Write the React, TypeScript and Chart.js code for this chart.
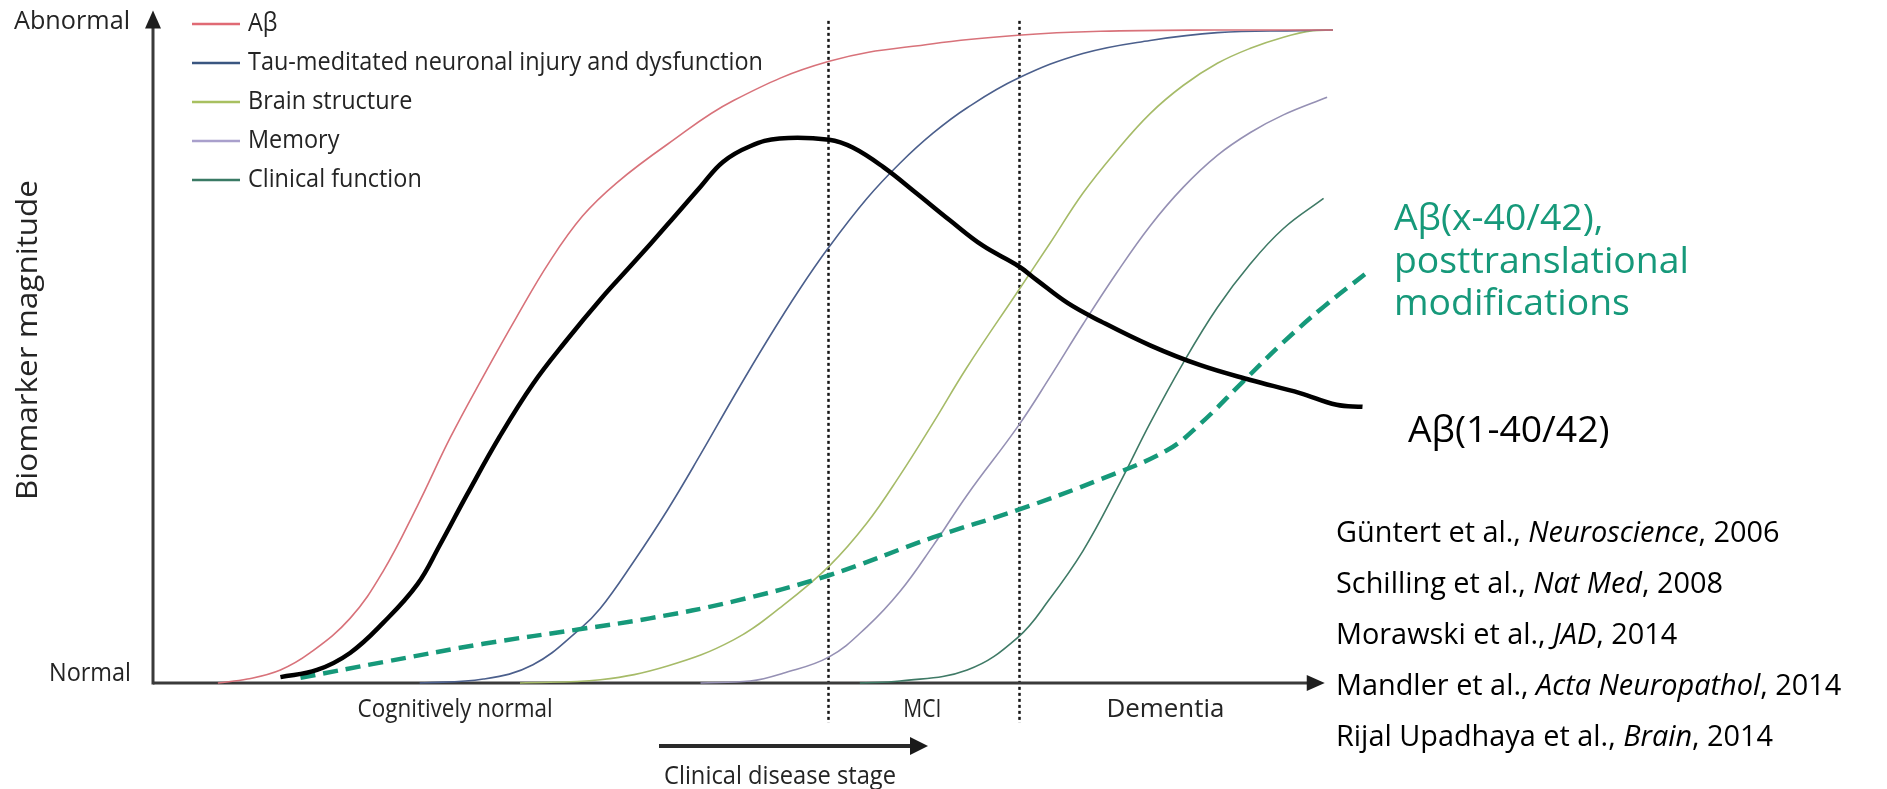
import React, { useEffect, useRef } from "react";
import { Chart, registerables } from "chart.js";

Chart.register(...registerables);

// ---------- data ----------
const seriesLabels = [
  "Aβ",
  "Tau-meditated neuronal injury and dysfunction",
  "Brain structure",
  "Memory",
  "Clinical function",
];

const abX = [5.5, 8.0, 10.8, 13.3, 16.7, 19.5, 22.4, 25.2, 28.0, 30.8, 33.6, 36.4, 39.3, 43.6, 49.2, 57.3, 66.1, 73.3, 80.3, 90, 100];
const abY = [0, 0.6, 2.0, 4.6, 9.9, 17.1, 27.1, 37.6, 47.0, 56.0, 64.5, 71.5, 76.6, 82.5, 89.2, 95.2, 97.9, 99.2, 99.8, 100, 100];

const tauX = [22.6, 28.0, 32.2, 36.2, 37.9, 40.7, 43.6, 46.4, 49.2, 52.0, 54.8, 57.3, 60.5, 63.3, 66.1, 69.0, 73.3, 78.8, 84.5, 90.2, 97.2, 100];
const tauY = [0, 0.6, 2.8, 8.3, 11.4, 18.5, 26.5, 35.0, 43.8, 52.3, 60.3, 66.8, 74.2, 79.6, 84.2, 88.1, 92.6, 96.4, 98.4, 99.6, 99.9, 100];

const brainX = [31.1, 37.9, 43.6, 49.2, 53.4, 57.3, 60.5, 63.3, 66.1, 69.0, 73.3, 76.0, 78.8, 81.7, 84.5, 87.3, 90.2, 93.0, 95.8, 98.3, 100];
const brainY = [0, 0.5, 2.6, 6.6, 11.9, 17.9, 24.5, 31.8, 39.8, 48.4, 60.0, 67.3, 75.0, 81.6, 87.2, 91.5, 94.9, 97.2, 98.9, 99.9, 100];

const memX = [46.4, 50.6, 53.4, 57.3, 60.5, 63.3, 66.1, 69.0, 73.3, 76.0, 78.8, 81.7, 84.5, 87.3, 90.2, 93.0, 95.8, 99.5];
const memY = [0, 0.3, 1.5, 4.0, 8.6, 14.0, 21.0, 28.8, 39.3, 46.8, 54.9, 62.9, 70.0, 75.9, 80.8, 84.3, 87.0, 89.7];

const clinX = [59.9, 63.3, 69.0, 73.3, 76.0, 78.8, 81.7, 84.5, 87.3, 90.2, 93.0, 95.8, 99.2];
const clinY = [0, 0.3, 2.0, 7.0, 12.9, 20.2, 29.8, 39.8, 49.0, 57.5, 64.2, 69.6, 74.2];

const ab142X = [10.8, 13.9, 16.7, 19.5, 22.4, 24.3, 26.6, 29.4, 32.2, 35.1, 37.9, 40.7, 43.6, 46.4, 48.3, 50.6, 53.1, 57.3, 59.3, 61.9, 64.7, 67.5, 70.3, 73.3, 74.9, 77.5, 80.3, 84.5, 88.7, 93.0, 97.2, 100.3, 102.5];
const ab142Y = [0.9, 2.0, 4.6, 9.2, 15.1, 21.1, 28.8, 37.8, 45.8, 52.6, 58.7, 64.3, 70.2, 76.0, 79.8, 82.2, 83.4, 83.2, 82.0, 79.0, 75.0, 70.9, 67.0, 63.9, 61.7, 58.2, 55.4, 51.7, 48.7, 46.4, 44.4, 42.6, 42.3];

const abxX = [12.5, 19.5, 28.0, 36.4, 42.1, 49.2, 57.3, 66.1, 73.3, 80.3, 85.9, 88.7, 92.4, 95.8, 99.2, 102.7];
const abxY = [0.8, 3.2, 6.0, 8.3, 9.9, 12.5, 16.5, 22.3, 26.5, 31.2, 35.6, 39.6, 46.2, 52.2, 57.6, 62.6];

const stageLabels = ["Cognitively normal", "MCI", "Dementia"];
const stageCenters = [25.6, 65.2, 85.8];
const stageBounds = [57.2, 73.4];

const yTopLabel = "Abnormal";
const yBottomLabel = "Normal";
const yTitle = "Biomarker magnitude";
const stageArrowLabel = "Clinical disease stage";

const abxLabelLines = ["Aβ(x-40/42),", "posttranslational", "modifications"];
const ab142Label = "Aβ(1-40/42)";

const refAuthors = ["Güntert et al., ", "Schilling et al., ", "Morawski et al., ", "Mandler et al., ", "Rijal Upadhaya et al., "];
const refJournals = ["Neuroscience", "Nat Med", "JAD", "Acta Neuropathol", "Brain"];
const refYears = ["2006", "2008", "2014", "2014", "2014"];

// ---------- styles ----------
const W = 1887;
const H = 789;
const seriesColors = ["#d8727a", "#4b5f8c", "#a6bb68", "#9590b4", "#3f7a66"];
const legendColors = ["#e06a74", "#3a5680", "#a8c060", "#a9a0cc", "#3a7a64"];
const GREEN = "#16997a";
const LANCET_FONT = '"Open Sans", "DejaVu Sans", sans-serif';
const MAIN_FONT = '"Open Sans", "Noto Sans", sans-serif';
const TEXT_GRAY = "#242424";

const pts = (xs: number[], ys: number[]) => xs.map((x, i) => ({ x, y: ys[i] }));

function drawFit(
  ctx: CanvasRenderingContext2D,
  text: string,
  x: number,
  y: number,
  font: string,
  width: number,
  align: "left" | "center" | "right",
  color: string
) {
  ctx.save();
  ctx.font = font;
  ctx.fillStyle = color;
  ctx.textBaseline = "middle";
  ctx.textAlign = "left";
  const w = ctx.measureText(text).width;
  const s = width / w;
  const x0 = align === "left" ? x : align === "center" ? x - width / 2 : x - width;
  ctx.translate(x0, y);
  ctx.scale(s, 1);
  ctx.fillText(text, 0, 0);
  ctx.restore();
}

function arrowHead(ctx: CanvasRenderingContext2D, tx: number, ty: number, dir: "up" | "right", len: number, half: number) {
  ctx.beginPath();
  if (dir === "up") {
    ctx.moveTo(tx, ty);
    ctx.lineTo(tx - half, ty + len);
    ctx.lineTo(tx + half, ty + len);
  } else {
    ctx.moveTo(tx, ty);
    ctx.lineTo(tx - len, ty - half);
    ctx.lineTo(tx - len, ty + half);
  }
  ctx.closePath();
  ctx.fill();
}

const overlayPlugin = {
  id: "overlay",
  beforeDatasetsDraw(chart: any) {
    const ctx: CanvasRenderingContext2D = chart.ctx;
    const xs = chart.scales.x;
    const ys = chart.scales.y;
    const x0 = xs.getPixelForValue(0);
    const y0 = ys.getPixelForValue(0);

    // stage boundaries (dotted)
    ctx.save();
    ctx.strokeStyle = "#151515";
    ctx.lineWidth = 2.5;
    ctx.setLineDash([3, 3]);
    stageBounds.forEach((b) => {
      const px = Math.round(xs.getPixelForValue(b)) + 0.5;
      ctx.beginPath();
      ctx.moveTo(px, ys.getPixelForValue(101.4));
      ctx.lineTo(px, y0 + 40);
      ctx.stroke();
    });
    ctx.restore();

    // axes
    ctx.save();
    ctx.strokeStyle = "#3a3a3a";
    ctx.fillStyle = "#1e1e1e";
    ctx.lineWidth = 3;
    const yTip = ys.getPixelForValue(103);
    const xTip = xs.getPixelForValue(99.3);
    ctx.beginPath();
    ctx.moveTo(x0, y0 + 1.5);
    ctx.lineTo(x0, yTip + 10);
    ctx.stroke();
    arrowHead(ctx, x0, yTip, "up", 18, 8);
    ctx.beginPath();
    ctx.moveTo(x0, y0);
    ctx.lineTo(xTip - 10, y0);
    ctx.stroke();
    arrowHead(ctx, xTip, y0, "right", 18, 8);
    ctx.restore();
  },
  afterDraw(chart: any) {
    const ctx: CanvasRenderingContext2D = chart.ctx;
    const xs = chart.scales.x;
    const ys = chart.scales.y;
    const x0 = xs.getPixelForValue(0);
    const y0 = ys.getPixelForValue(0);

    // axis end labels
    drawFit(ctx, yTopLabel, x0 - 23, 22, `25px ${LANCET_FONT}`, 116, "right", TEXT_GRAY);
    drawFit(ctx, yBottomLabel, x0 - 22, y0 - 9, `25px ${LANCET_FONT}`, 82, "right", TEXT_GRAY);

    // y title
    ctx.save();
    ctx.translate(29, 340);
    ctx.rotate(-Math.PI / 2);
    drawFit(ctx, yTitle, 0, 0, `29px ${LANCET_FONT}`, 320, "center", TEXT_GRAY);
    ctx.restore();

    // legend (custom, from datasets)
    const LF = `26px ${LANCET_FONT}`;
    ctx.save();
    ctx.font = LF;
    const k = 515 / ctx.measureText(seriesLabels[1]).width;
    ctx.restore();
    const legendY = [24, 63, 102, 141, 180];
    chart.data.datasets
      .filter((d: any) => d.inLegend)
      .forEach((d: any, i: number) => {
        const y = legendY[i];
        ctx.save();
        ctx.strokeStyle = legendColors[i];
        ctx.lineWidth = 2.5;
        ctx.beginPath();
        ctx.moveTo(192, y);
        ctx.lineTo(240, y);
        ctx.stroke();
        ctx.font = LF;
        const w = ctx.measureText(d.label).width * k;
        ctx.restore();
        drawFit(ctx, d.label, 248, y, LF, w, "left", TEXT_GRAY);
      });

    // stage labels
    const stageWidths = [195, 38, 118];
    stageLabels.forEach((s, i) => {
      drawFit(ctx, s, xs.getPixelForValue(stageCenters[i]), y0 + 27, `26px ${LANCET_FONT}`, stageWidths[i], "center", TEXT_GRAY);
    });

    // clinical disease stage arrow
    ctx.save();
    ctx.strokeStyle = "#2a2a2a";
    ctx.fillStyle = "#1a1a1a";
    ctx.lineWidth = 4;
    ctx.beginPath();
    ctx.moveTo(659, 746);
    ctx.lineTo(912, 746);
    ctx.stroke();
    arrowHead(ctx, 928, 746, "right", 18, 9);
    ctx.restore();
    drawFit(ctx, stageArrowLabel, 780, 777, `26px ${LANCET_FONT}`, 232, "center", TEXT_GRAY);

    // green annotation
    const lineYs = [219, 262, 304];
    ctx.save();
    ctx.font = `34px ${MAIN_FONT}`;
    const gk = 295 / ctx.measureText(abxLabelLines[1]).width;
    const gsize = 34 * gk;
    ctx.restore();
    abxLabelLines.forEach((t, i) => {
      ctx.save();
      ctx.font = `${gsize}px ${MAIN_FONT}`;
      ctx.fillStyle = GREEN;
      ctx.textBaseline = "middle";
      ctx.fillText(t, 1394, lineYs[i]);
      ctx.restore();
    });

    // black annotation
    ctx.save();
    ctx.font = `${gsize}px ${MAIN_FONT}`;
    ctx.fillStyle = "#000";
    ctx.textBaseline = "middle";
    ctx.fillText(ab142Label, 1408, 431);
    ctx.restore();

    // references
    ctx.save();
    const full0 = refAuthors[0] + refJournals[0] + ", " + refYears[0];
    ctx.font = `24px ${MAIN_FONT}`;
    const rsize = 24 * (457 / ctx.measureText(full0).width);
    const refYs = [534, 585, 636, 687, 738];
    ctx.fillStyle = "#000";
    ctx.textBaseline = "middle";
    refAuthors.forEach((a, i) => {
      let x = 1336;
      ctx.font = `${rsize}px ${MAIN_FONT}`;
      ctx.fillText(a, x, refYs[i]);
      x += ctx.measureText(a).width;
      ctx.font = `italic ${rsize}px ${MAIN_FONT}`;
      ctx.fillText(refJournals[i], x, refYs[i]);
      x += ctx.measureText(refJournals[i]).width;
      ctx.font = `${rsize}px ${MAIN_FONT}`;
      ctx.fillText(", " + refYears[i], x, refYs[i]);
    });
    ctx.restore();
  },
};

export default function App() {
  const ref = useRef<HTMLCanvasElement>(null);

  useEffect(() => {
    const canvas = ref.current;
    if (!canvas) return;
    const thin = (label: string, xs: number[], ys: number[], color: string) => ({
      label,
      data: pts(xs, ys),
      borderColor: color,
      borderWidth: 1.6,
      pointRadius: 0,
      fill: false,
      tension: 0.4,
      clip: false as const,
      inLegend: true,
    });
    const chart = new Chart(canvas, {
      type: "line",
      data: {
        datasets: [
          {
            label: ab142Label,
            data: pts(ab142X, ab142Y),
            borderColor: "#000",
            borderWidth: 4.5,
            pointRadius: 0,
            fill: false,
            tension: 0.4,
            clip: false,
            borderCapStyle: "butt",
          } as any,
          {
            label: abxLabelLines.join(" "),
            data: pts(abxX, abxY),
            borderColor: GREEN,
            borderWidth: 4.5,
            borderDash: [15, 8],
            pointRadius: 0,
            fill: false,
            tension: 0.4,
            clip: false,
            borderCapStyle: "butt",
          } as any,
          thin(seriesLabels[0], abX, abY, seriesColors[0]) as any,
          thin(seriesLabels[1], tauX, tauY, seriesColors[1]) as any,
          thin(seriesLabels[2], brainX, brainY, seriesColors[2]) as any,
          thin(seriesLabels[3], memX, memY, seriesColors[3]) as any,
          thin(seriesLabels[4], clinX, clinY, seriesColors[4]) as any,
        ],
      },
      options: {
        animation: false,
        responsive: false,
        maintainAspectRatio: false,
        events: [],
        layout: { padding: { left: 153, right: W - 1374.3, top: 30, bottom: H - 683 } },
        scales: {
          x: { type: "linear", min: 0, max: 103.5, display: false },
          y: { type: "linear", min: 0, max: 100, display: false },
        },
        plugins: {
          legend: { display: false },
          tooltip: { enabled: false },
          title: { display: false },
        },
      },
      plugins: [overlayPlugin],
    });
    return () => chart.destroy();
  }, []);

  return (
    <div style={{ position: "absolute", left: 0, top: 0, width: W, height: H, background: "#fff" }}>
      <canvas ref={ref} width={W} height={H} style={{ display: "block", width: W, height: H }} />
    </div>
  );
}
